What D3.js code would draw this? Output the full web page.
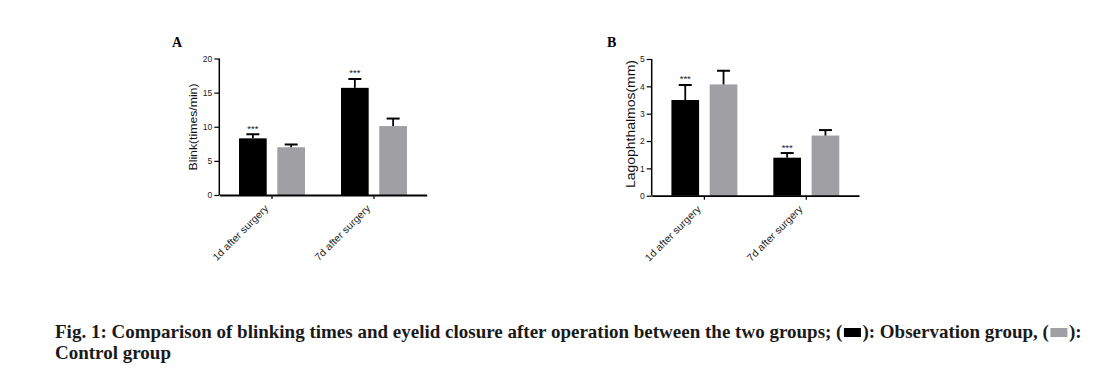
<!DOCTYPE html>
<html><head><meta charset="utf-8">
<script src="https://cdn.jsdelivr.net/npm/d3@7/dist/d3.min.js"></script>
<style>body{margin:0;background:#fff;overflow:hidden}</style>
</head><body>
<svg id="c" width="1102" height="369"></svg>
<script>
// ---- data ----
const categories = ["1d after surgery", "7d after surgery"];
const groups = ["Observation group", "Control group"];
const blinkObservation = [8.3, 15.7];
const blinkObservationErr = [0.6, 1.3];
const blinkControl = [7.0, 10.1];
const blinkControlErr = [0.4, 1.1];
const lagoObservation = [3.5, 1.39];
const lagoObservationErr = [0.55, 0.17];
const lagoControl = [4.07, 2.2];
const lagoControlErr = [0.5, 0.2];
const significance = ["***", "***"]; // observation group vs control, each day
const blinkTicks = [0, 5, 10, 15, 20];
const lagoTicks = [0, 1, 2, 3, 4, 5];
const captionText = "Fig. 1: Comparison of blinking times and eyelid closure after operation between the two groups; (";
const captionMid = "): Observation group, (";
const captionEnd = "):";
const captionLine2 = "Control group";

const colors = {"Observation group": "#000000", "Control group": "#a09fa4"};
const svg = d3.select("#c");

function panel(opt) {
  const g = svg.append("g");
  const x = d3.scaleBand().domain(categories).range([opt.x0, opt.x1]).paddingInner(0).paddingOuter(0.017);
  const xi = d3.scaleBand().domain(groups).range([0, x.bandwidth()]).paddingInner(0.277).paddingOuter(0.47);
  const y = d3.scaleLinear().domain([0, opt.max]).range([opt.y0, opt.y1]);

  const rows = [];
  categories.forEach((c, i) => {
    rows.push({c, g: groups[0], v: opt.obs[i], e: opt.obsErr[i], sig: significance[i]});
    rows.push({c, g: groups[1], v: opt.ctl[i], e: opt.ctlErr[i], sig: ""});
  });

  g.selectAll("rect.bar").data(rows).join("rect").attr("class", "bar")
    .attr("x", d => x(d.c) + xi(d.g)).attr("width", xi.bandwidth())
    .attr("y", d => y(d.v)).attr("height", d => y(0) - y(d.v))
    .attr("fill", d => colors[d.g]);

  const eb = g.selectAll("g.eb").data(rows).join("g").attr("class", "eb")
    .attr("transform", d => `translate(${x(d.c) + xi(d.g) + xi.bandwidth() / 2},0)`);
  eb.append("line").attr("x1", 0).attr("x2", 0).attr("y1", d => y(d.v)).attr("y2", d => y(d.v + d.e))
    .attr("stroke", "#000").attr("stroke-width", 1.8);
  eb.append("line").attr("x1", -6.5).attr("x2", 6.5).attr("y1", d => y(d.v + d.e)).attr("y2", d => y(d.v + d.e))
    .attr("stroke", "#000").attr("stroke-width", 2);
  eb.append("text").text(d => d.sig).attr("y", d => y(d.v + d.e) - 2.5).attr("text-anchor", "middle")
    .attr("font-family", "Liberation Sans, Arial").attr("font-size", 9.5).attr("fill", "#222");

  // y axis
  const ya = g.append("g").attr("transform", `translate(${opt.x0},0)`)
    .call(d3.axisLeft(y).tickValues(opt.ticks).tickSize(5).tickPadding(2).tickFormat(d3.format("d")));
  ya.select(".domain").attr("stroke-width", 1.5).attr("d", `M0,${opt.y1}V${opt.y0}`);
  ya.selectAll(".tick line").attr("stroke-width", 1.2);
  ya.selectAll("text").attr("font-family", "Liberation Sans, Arial").attr("font-size", 8.5).attr("fill", "#222");

  // x axis
  const xa = g.append("g").attr("transform", `translate(0,${opt.y0})`)
    .call(d3.axisBottom(x).tickSize(4).tickSizeOuter(0).tickFormat(""));
  xa.select(".domain").attr("stroke-width", 1.8);
  xa.selectAll(".tick line").attr("stroke-width", 1.2);
  g.selectAll("text.xl").data(categories).join("text").attr("class", "xl").text(d => d)
    .attr("transform", d => `translate(${x(d) + x.bandwidth() / 2 - 3},${opt.y0 + 14}) rotate(-45)`)
    .attr("text-anchor", "end").attr("font-family", "Liberation Sans, Arial").attr("font-size", 10)
    .attr("textLength", 74).attr("lengthAdjust", "spacingAndGlyphs").attr("fill", "#222");

  // y label
  g.append("text").text(opt.ylabel)
    .attr("transform", `translate(${opt.lx},${opt.ly}) rotate(-90)`)
    .attr("text-anchor", "middle").attr("font-family", "Liberation Sans, Arial").attr("font-size", opt.lfs)
    .attr("textLength", opt.llen).attr("lengthAdjust", "spacingAndGlyphs").attr("fill", "#111");

  // panel letter
  g.append("text").text(opt.letter).attr("x", opt.tx).attr("y", 47)
    .attr("font-family", "Liberation Serif, Times New Roman").attr("font-weight", "bold").attr("font-size", 14);
}

panel({x0: 219.3, x1: 426.7, y0: 195, y1: 58.5, max: 20, ticks: blinkTicks,
  obs: blinkObservation, obsErr: blinkObservationErr, ctl: blinkControl, ctlErr: blinkControlErr,
  ylabel: "Blink(times/min)", lx: 196.5, ly: 127, lfs: 11, llen: 87, letter: "A", tx: 172});
panel({x0: 651.7, x1: 859, y0: 195.7, y1: 59, max: 5, ticks: lagoTicks,
  obs: lagoObservation, obsErr: lagoObservationErr, ctl: lagoControl, ctlErr: lagoControlErr,
  ylabel: "Lagophthalmos(mm)", lx: 634.5, ly: 124, lfs: 12.5, llen: 128, letter: "B", tx: 607});

// caption with inline legend swatches
const cap = svg.append("g").attr("font-family", "Liberation Serif, Times New Roman").attr("font-weight", "bold")
  .attr("font-size", 19).attr("fill", "#1a1a1a");
let cx = 55;
const base1 = 338;
function seg(t, xx, yy) {
  const n = cap.append("text").attr("x", xx).attr("y", yy).text(t);
  return n.node().getComputedTextLength();
}
function swatch(color) {
  cap.append("rect").attr("x", cx + 1.5).attr("y", base1 - 10).attr("width", 17).attr("height", 9).attr("fill", color);
  cx += 20;
}
cx += seg(captionText, cx, base1);
swatch(colors[groups[0]]);
cx += seg(captionMid, cx, base1);
swatch(colors[groups[1]]);
cx += seg(captionEnd, cx, base1);
seg(captionLine2, 55, 359);
</script>
</body></html>
